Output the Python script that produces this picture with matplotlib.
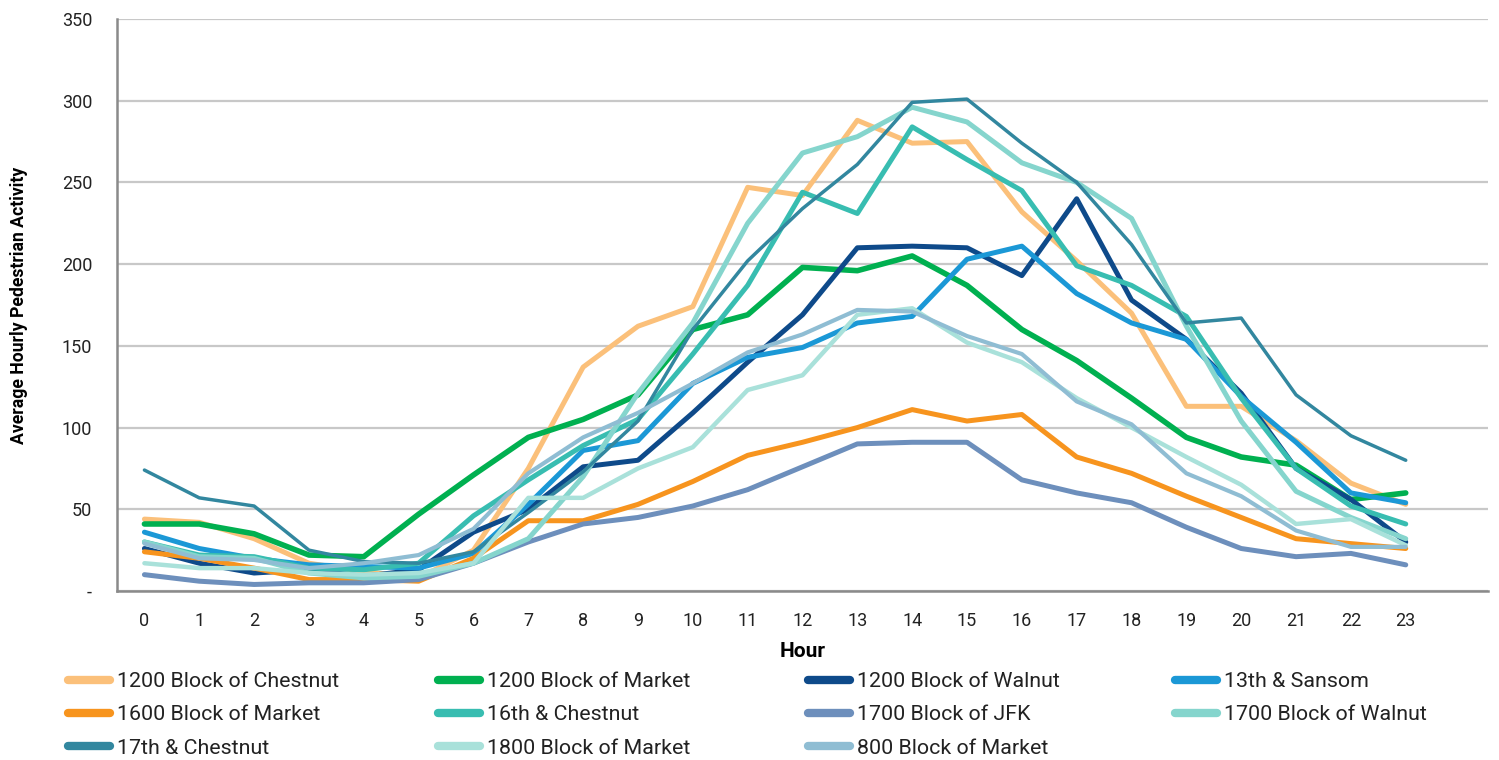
import matplotlib
matplotlib.use('Agg')
import matplotlib.pyplot as plt
from matplotlib.ticker import FuncFormatter
from matplotlib.lines import Line2D

plt.rcParams['font.family'] = ['Roboto', 'DejaVu Sans']

hours = list(range(24))

names = ['1200 Block of Chestnut', '1200 Block of Market', '1200 Block of Walnut',
         '13th & Sansom', '1600 Block of Market', '16th & Chestnut',
         '1700 Block of JFK', '1700 Block of Walnut', '17th & Chestnut',
         '1800 Block of Market', '800 Block of Market']

chestnut_1200 = [44, 42, 32, 17, 12, 8, 25, 75, 137, 162, 174, 247, 242, 288,
                 274, 275, 232, 202, 170, 113, 113, 92, 66, 53]
market_1200 = [41, 41, 35, 22, 21, 47, 71, 94, 105, 120, 160, 169, 198, 196,
               205, 187, 160, 141, 118, 94, 82, 77, 56, 60]
walnut_1200 = [26, 17, 11, 13, 9, 13, 36, 50, 76, 80, 109, 140, 169, 210,
               211, 210, 193, 240, 178, 154, 121, 75, 56, 30]
sansom_13th = [36, 26, 20, 16, 15, 14, 23, 53, 86, 92, 127, 143, 149, 164,
               168, 203, 211, 182, 164, 154, 119, 91, 60, 54]
market_1600 = [24, 20, 14, 7, 7, 6, 20, 43, 43, 53, 67, 83, 91, 100,
               111, 104, 108, 82, 72, 58, 45, 32, 29, 26]
chestnut_16th = [30, 22, 21, 14, 13, 17, 46, 68, 89, 105, 145, 187, 244, 231,
                 284, 264, 245, 199, 187, 168, 118, 75, 52, 41]
jfk_1700 = [10, 6, 4, 5, 5, 7, 17, 30, 41, 45, 52, 62, 76, 90,
            91, 91, 68, 60, 54, 39, 26, 21, 23, 16]
walnut_1700 = [30, 21, 20, 11, 8, 9, 17, 32, 70, 121, 164, 225, 268, 278,
               296, 287, 262, 250, 228, 162, 104, 61, 45, 32]
chestnut_17th = [74, 57, 52, 25, 18, 17, 24, 48, 73, 104, 160, 202, 234, 261,
                 299, 301, 274, 250, 212, 164, 167, 120, 95, 80]
market_1800 = [17, 14, 14, 11, 10, 11, 17, 57, 57, 75, 88, 123, 132, 169,
               173, 152, 140, 118, 100, 82, 65, 41, 44, 28]
market_800 = [29, 20, 19, 14, 17, 22, 38, 72, 94, 109, 127, 146, 157, 172,
              171, 156, 145, 116, 102, 72, 58, 37, 27, 27]

series = [chestnut_1200, market_1200, walnut_1200, sansom_13th, market_1600,
          chestnut_16th, jfk_1700, walnut_1700, chestnut_17th, market_1800,
          market_800]

colors = ['#FBC07A', '#00B050', '#0E4A8A', '#1B98D6', '#F7941E', '#38BDB1',
          '#6D8FBC', '#85D5CD', '#32879F', '#A9E1DA', '#8FBDD3']
widths = [3.6, 4.0, 3.6, 3.6, 3.6, 3.6, 3.6, 3.6, 2.5, 3.2, 3.0]

fig = plt.figure(figsize=(14.99, 7.6), dpi=100)
ax = fig.add_axes([117 / 1499, 1 - 591 / 760, (1488 - 117) / 1499, (591 - 19) / 760])

for vals, c, w in zip(series, colors, widths):
    ax.plot(hours, vals, color=c, linewidth=w,
            solid_joinstyle='round', solid_capstyle='round')

ax.set_xlim(-0.5, 24.5)
ax.set_ylim(0, 350)
ax.set_xticks(hours)
ax.set_yticks(range(0, 351, 50))
ax.yaxis.set_major_formatter(FuncFormatter(lambda v, p: '-' if v == 0 else f'{int(v)}'))
ax.grid(axis='y', color='#C8C8C8', linewidth=1.6)
ax.set_axisbelow(True)
for s in ['top', 'right']:
    ax.spines[s].set_visible(False)
for s in ['left', 'bottom']:
    ax.spines[s].set_color('#8A8A8A')
    ax.spines[s].set_linewidth(1.8)
ax.tick_params(length=0, labelsize=13, colors='#222222')
ax.tick_params(axis='x', pad=15)
ax.tick_params(axis='y', pad=18)

ax.set_xlabel('Hour', fontsize=15, fontweight='bold', labelpad=9)
ax.set_ylabel('Average Hourly Pedestrian Activity', fontsize=12.7, fontweight='bold', labelpad=24)

# legend: 4 columns laid out row by row, like the original
col_x = [68, 438, 808, 1175]
for col in range(4):
    idx = list(range(col, len(names), 4))
    handles = [Line2D([0], [0], color=colors[i], linewidth=6, solid_capstyle='round')
               for i in idx]
    fig.legend(handles, [names[i] for i in idx], loc='upper left',
               bbox_to_anchor=(col_x[col] / 1499, 1 - 672 / 760),
               frameon=False, fontsize=15.4, handlelength=1.96, handletextpad=0.33,
               labelspacing=0.67, borderpad=0, borderaxespad=0, labelcolor='#222222')

plt.savefig('out.png', dpi=100)
